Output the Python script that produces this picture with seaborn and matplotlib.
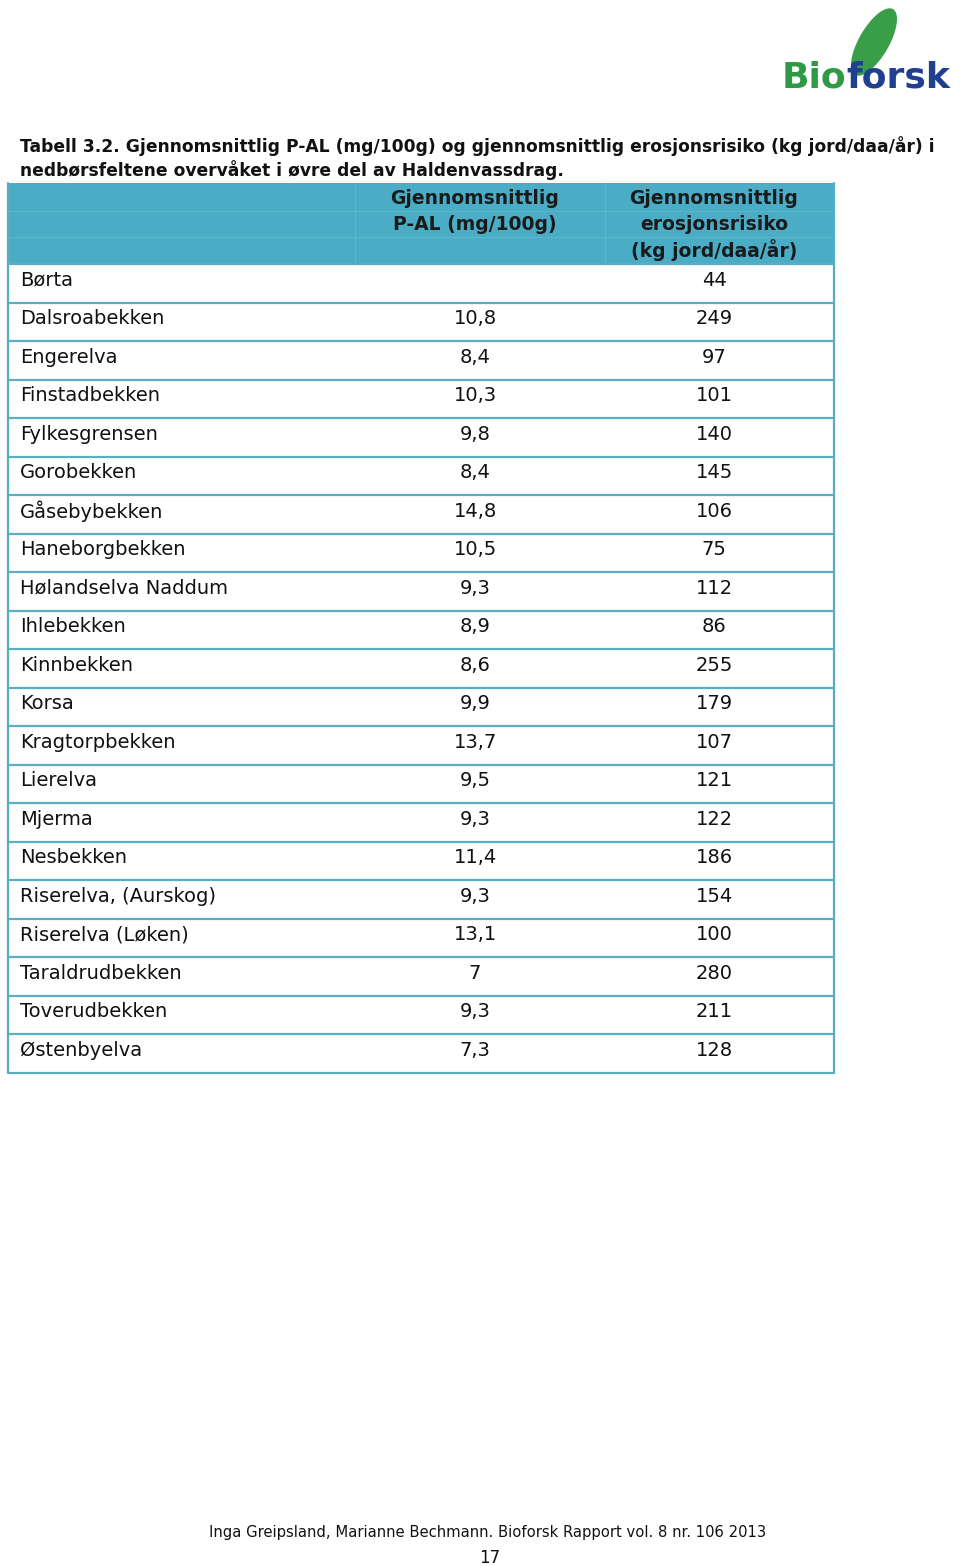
import matplotlib.pyplot as plt
import seaborn as sns
from matplotlib.patches import Rectangle, Ellipse

# Table data
stations = ['Børta', 'Dalsroabekken', 'Engerelva', 'Finstadbekken', 'Fylkesgrensen',
            'Gorobekken', 'Gåsebybekken', 'Haneborgbekken', 'Hølandselva Naddum',
            'Ihlebekken', 'Kinnbekken', 'Korsa', 'Kragtorpbekken', 'Lierelva', 'Mjerma',
            'Nesbekken', 'Riserelva, (Aurskog)', 'Riserelva (Løken)', 'Taraldrudbekken',
            'Toverudbekken', 'Østenbyelva']
p_al = [None, 10.8, 8.4, 10.3, 9.8, 8.4, 14.8, 10.5, 9.3, 8.9, 8.6, 9.9, 13.7, 9.5,
        9.3, 11.4, 9.3, 13.1, 7, 9.3, 7.3]
erosion = [44, 249, 97, 101, 140, 145, 106, 75, 112, 86, 255, 179, 107, 121, 122,
           186, 154, 100, 280, 211, 128]
col_headers = [['Gjennomsnittlig', 'P-AL (mg/100g)'],
               ['Gjennomsnittlig', 'erosjonsrisiko', '(kg jord/daa/år)']]
title_lines = ['Tabell 3.2. Gjennomsnittlig P-AL (mg/100g) og gjennomsnittlig erosjonsrisiko (kg jord/daa/år) i',
               'nedbørsfeltene overvåket i øvre del av Haldenvassdrag.']
footer = 'Inga Greipsland, Marianne Bechmann. Bioforsk Rapport vol. 8 nr. 106 2013'
page_no = '17'


def fmt(v):
    if v is None:
        return ''
    return f'{v:g}'.replace('.', ',')


sns.set_theme(style='white')
plt.rcParams['font.family'] = ['DejaVu Sans']

fig = plt.figure(figsize=(9.6, 15.66), dpi=100)
ax = fig.add_axes([0, 0, 1, 1])
ax.set_xlim(0, 960)
ax.set_ylim(1566, 0)
ax.axis('off')

teal = '#4BACC6'
line_col = '#5aaec4'
left, right = 8, 834
head_top, body_top, row_h = 183, 264, 38.5
col_x = [475, 714]
body_bottom = body_top + len(stations) * row_h

# header block
ax.add_patch(Rectangle((left, head_top), right - left, body_top - head_top,
                       facecolor=teal, lw=0))
for y in [211, 237]:
    ax.plot([left, right], [y, y], color='#5fb8ce', lw=0.6)
for x in [355, 605]:
    ax.plot([x, x], [head_top, body_top], color='#5fb8ce', lw=0.6)
for cx, lines in zip(col_x, col_headers):
    for k, txt in enumerate(lines):
        ax.text(cx, 198 + 26 * k, txt, ha='center', va='center', fontsize=13.5,
                fontweight='bold', color='#1a1a1a')

# body rows
for i, (name, p, e) in enumerate(zip(stations, p_al, erosion)):
    yc = body_top + (i + 0.5) * row_h - 3
    ax.text(20, yc, name, ha='left', va='center', fontsize=14, color='#111111')
    ax.text(col_x[0], yc, fmt(p), ha='center', va='center', fontsize=14, color='#111111')
    ax.text(col_x[1], yc, str(e), ha='center', va='center', fontsize=14, color='#111111')

for i in range(len(stations) + 1):
    y = body_top + i * row_h
    ax.plot([left, right], [y, y], color=line_col, lw=1.6)
for x in [left, right]:
    ax.plot([x, x], [head_top, body_bottom], color=line_col, lw=1.6)

# title
for k, txt in enumerate(title_lines):
    ax.text(20, 146 + 24 * k, txt, ha='left', va='center', fontsize=12.3,
            fontweight='bold', color='#111111')

# logo
ax.add_patch(Ellipse((874, 42), 76, 30, angle=-60, facecolor='#3a9d47', lw=0))
ax.text(782, 88, 'Bio', ha='left', va='baseline', fontsize=26, fontweight='bold',
        color='#2e9a45')
ax.text(846, 88, 'forsk', ha='left', va='baseline', fontsize=26, fontweight='bold',
        color='#1f3f8f')

# footer
ax.text(488, 1533, footer, ha='center', va='center', fontsize=10.6, color='#111111')
ax.text(490, 1558, page_no, ha='center', va='center', fontsize=12, color='#111111')

fig.savefig('out.png', dpi=100, facecolor='white')
